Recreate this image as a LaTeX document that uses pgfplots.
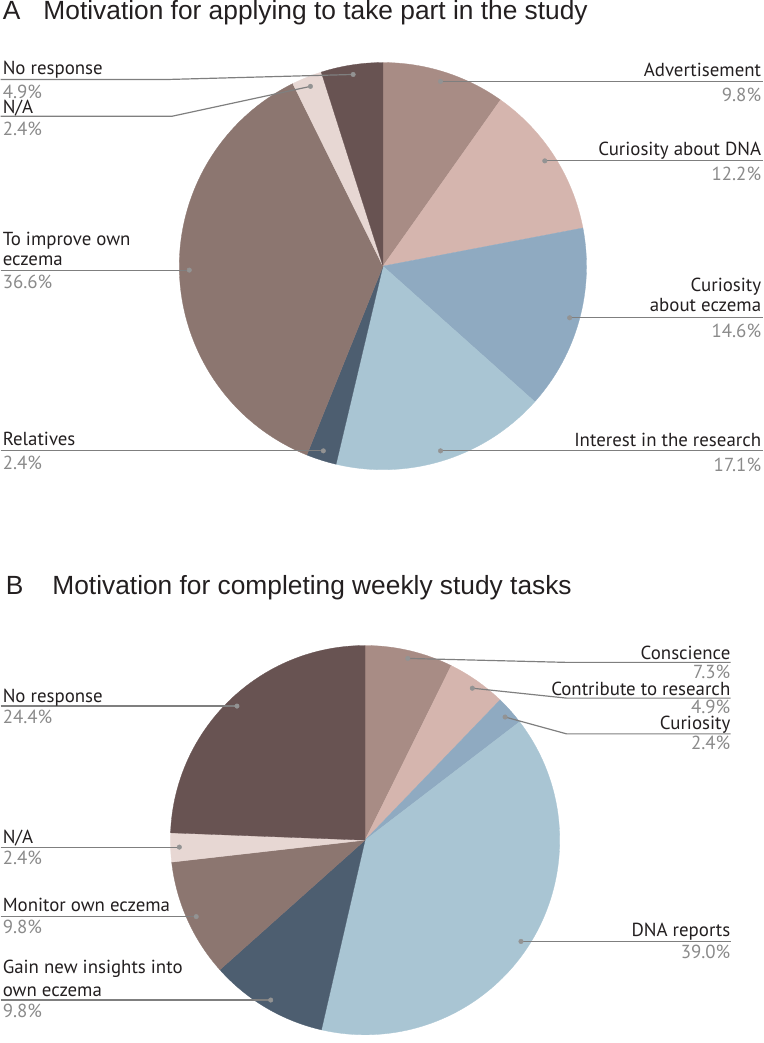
\documentclass[border=0pt]{standalone}
\usepackage{pgfplots}
\pgfplotsset{compat=1.18}
\usepackage{pgfplotstable}
\usepackage{fontspec}
\setmainfont{PT Sans}
\newfontfamily\titlefont{Liberation Sans}
\definecolor{cAdv}{HTML}{A88C85}
\definecolor{cDNA}{HTML}{D5B5AE}
\definecolor{cEcz}{HTML}{8FAAC1}
\definecolor{cInt}{HTML}{A9C5D3}
\definecolor{cRel}{HTML}{4D5E70}
\definecolor{cImp}{HTML}{8C7670}
\definecolor{cNA}{HTML}{E7D7D3}
\definecolor{cNoR}{HTML}{685352}
\definecolor{labcol}{HTML}{231F20}
\definecolor{pctcol}{HTML}{8A8A8A}
\definecolor{linecol}{HTML}{7F7F7F}
\definecolor{dotcol}{HTML}{939393}
\newcommand\lab{\fontsize{19bp}{22bp}\selectfont}
\newcommand\ttl{\titlefont\fontsize{26.5bp}{30bp}\selectfont}

% Panel A: clockwise from 12 o'clock
\pgfplotstableread{
val col
9.8  cAdv
12.2 cDNA
14.6 cEcz
17.1 cInt
2.4  cRel
36.6 cImp
2.4  cNA
4.9  cNoR
}\tabA
% Panel B
\pgfplotstableread{
val col
7.3  cAdv
4.9  cDNA
2.4  cEcz
39.0 cInt
9.8  cRel
9.8  cImp
2.4  cNA
24.4 cNoR
}\tabB

\begin{document}
\begin{tikzpicture}
\begin{axis}[x=1bp, y=1bp, xmin=0, xmax=768, ymin=0, ymax=1043,
  hide axis, clip=false, enlargelimits=false]
\path (axis cs:0,0) rectangle (axis cs:768,1043);

% ---- pie A
\def\cum{0}
\pgfplotsforeachungrouped \idx in {0,...,7}{%
  \pgfplotstablegetelem{\idx}{val}\of\tabA \let\sval\pgfplotsretval
  \pgfplotstablegetelem{\idx}{col}\of\tabA \let\scol\pgfplotsretval
  \pgfmathsetmacro\sa{90-3.6*\cum}%
  \pgfmathsetmacro\cum{\cum+\sval}%
  \pgfmathsetmacro\ea{90-3.6*\cum}%
  \edef\cmd{\noexpand\fill[\scol, draw=\scol, line width=0.3bp] (axis cs:385,775) -- ++(\sa:205bp) arc[start angle=\sa, end angle=\ea, radius=205bp] -- cycle;}%
  \cmd
}
% ---- pie B
\def\cum{0}
\pgfplotsforeachungrouped \idx in {0,...,7}{%
  \pgfplotstablegetelem{\idx}{val}\of\tabB \let\sval\pgfplotsretval
  \pgfplotstablegetelem{\idx}{col}\of\tabB \let\scol\pgfplotsretval
  \pgfmathsetmacro\sa{90-3.6*\cum}%
  \pgfmathsetmacro\cum{\cum+\sval}%
  \pgfmathsetmacro\ea{90-3.6*\cum}%
  \edef\cmd{\noexpand\fill[\scol, draw=\scol, line width=0.3bp] (axis cs:367,197) -- ++(\sa:196bp) arc[start angle=\sa, end angle=\ea, radius=196bp] -- cycle;}%
  \cmd
}

% ---- leader lines A
\addplot[linecol, line width=1.2bp, no markers] coordinates {(0,963) (170,963) (355,968)};
\addplot[linecol, line width=1.2bp, no markers] coordinates {(0,926) (173,926) (312,956)};
\addplot[linecol, line width=1.2bp, no markers] coordinates {(0,771) (190,771)};
\addplot[linecol, line width=1.2bp, no markers] coordinates {(0,589) (325,589)};
\addplot[linecol, line width=1.2bp, no markers] coordinates {(443,961) (768,961)};
\addplot[linecol, line width=1.2bp, no markers] coordinates {(548,881) (768,881)};
\addplot[linecol, line width=1.2bp, no markers] coordinates {(573,723) (768,723)};
\addplot[linecol, line width=1.2bp, no markers] coordinates {(443,589) (768,589)};
\addplot[only marks, mark=*, mark size=2.3bp, dotcol] coordinates {
 (355,968) (312,956) (190,771) (325,589) (443,961) (548,881) (573,723) (443,589)};

% ---- leader lines B
\addplot[linecol, line width=1.2bp, no markers] coordinates {(410,380) (570,376) (735,376)};
\addplot[linecol, line width=1.2bp, no markers] coordinates {(475,350) (570,340) (735,340)};
\addplot[linecol, line width=1.2bp, no markers] coordinates {(508,321) (570,304) (735,304)};
\addplot[linecol, line width=1.2bp, no markers] coordinates {(524,95) (735,95)};
\addplot[linecol, line width=1.2bp, no markers] coordinates {(0,36) (272,36)};
\addplot[linecol, line width=1.2bp, no markers] coordinates {(0,120) (197,120)};
\addplot[linecol, line width=1.2bp, no markers] coordinates {(0,190) (180,190)};
\addplot[linecol, line width=1.2bp, no markers] coordinates {(0,332) (238,332)};
\addplot[only marks, mark=*, mark size=2.3bp, dotcol] coordinates {
 (410,380) (475,350) (508,321) (524,95) (272,36) (197,120) (180,190) (238,332)};

% ---- titles
\node[anchor=base west, font=\ttl, text=labcol, inner sep=0] at (axis cs:2,1023) {A};
\node[anchor=base west, font=\ttl, text=labcol, inner sep=0] at (axis cs:43,1023) {Motivation for applying to take part in the study};
\node[anchor=base west, font=\ttl, text=labcol, inner sep=0] at (axis cs:5,444) {B};
\node[anchor=base west, font=\ttl, text=labcol, inner sep=0] at (axis cs:52,444) {Motivation for completing weekly study tasks};

% ---- labels A
\tikzset{lw/.style={anchor=base west, font=\lab, inner sep=0, text=labcol},
         le/.style={anchor=base east, font=\lab, inner sep=0, text=labcol},
         pw/.style={anchor=base west, font=\lab, inner sep=0, text=pctcol},
         pe/.style={anchor=base east, font=\lab, inner sep=0, text=pctcol}}
\node[lw] at (axis cs:2,968) {No response};
\node[pw] at (axis cs:2,944) {4.9\%};
\node[lw] at (axis cs:2,929) {N/A};
\node[pw] at (axis cs:2,907) {2.4\%};
\node[lw] at (axis cs:2,796) {To improve own};
\node[lw] at (axis cs:2,776) {eczema};
\node[pw] at (axis cs:2,752) {36.6\%};
\node[lw] at (axis cs:2,594) {Relatives};
\node[pw] at (axis cs:2,570) {2.4\%};
\node[le] at (axis cs:766,966) {Advertisement};
\node[pe] at (axis cs:766,941) {9.8\%};
\node[le] at (axis cs:766,886) {Curiosity about DNA};
\node[pe] at (axis cs:766,861) {12.2\%};
\node[le] at (axis cs:766,749) {Curiosity};
\node[le] at (axis cs:766,729) {about eczema};
\node[pe] at (axis cs:766,703) {14.6\%};
\node[le] at (axis cs:766,593) {Interest in the research};
\node[pe] at (axis cs:766,568) {17.1\%};

% ---- labels B
\node[le] at (axis cs:735,379) {Conscience};
\node[pe] at (axis cs:735,360) {7.3\%};
\node[le] at (axis cs:735,343) {Contribute to research};
\node[pe] at (axis cs:735,325) {4.9\%};
\node[le] at (axis cs:735,308) {Curiosity};
\node[pe] at (axis cs:735,288) {2.4\%};
\node[le] at (axis cs:735,100) {DNA reports};
\node[pe] at (axis cs:735,78) {39.0\%};
\node[lw] at (axis cs:2,336) {No response};
\node[pw] at (axis cs:2,314) {24.4\%};
\node[lw] at (axis cs:2,194) {N/A};
\node[pw] at (axis cs:2,172) {2.4\%};
\node[lw] at (axis cs:2,125) {Monitor own eczema};
\node[pw] at (axis cs:2,103) {9.8\%};
\node[lw] at (axis cs:2,63) {Gain new insights into};
\node[lw] at (axis cs:2,40) {own eczema};
\node[pw] at (axis cs:2,18) {9.8\%};
\end{axis}
\end{tikzpicture}
\end{document}
